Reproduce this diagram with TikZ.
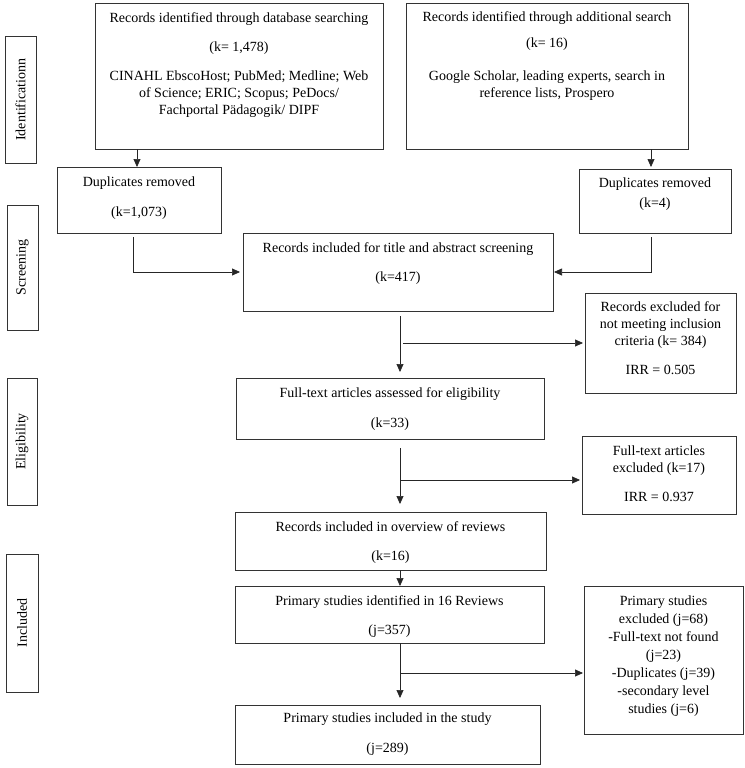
\documentclass[tikz,border=0pt]{standalone}
\usepackage{fontspec}
\setmainfont{Liberation Serif}
\usepackage{tikz}
\usetikzlibrary{arrows.meta,positioning}
\newcommand{\boxfont}{\fontsize{14}{17}\selectfont}

\begin{document}
\begin{tikzpicture}[
  x=1pt, y=-1pt,
  box/.style={rectangle, draw=black!80, line width=0.7pt, inner sep=0pt, outer sep=0pt, anchor=north west},
  txt/.style={font=\boxfont, align=center, inner sep=0pt, text=black},
  arr/.style={-{Triangle[length=8pt,width=7pt]}, line width=0.7pt, black!85}
]
\useasboundingbox (0,0) rectangle (744,768);

\node[box, minimum width=31pt, minimum height=127pt](idS) at (5,36) {};
\node[box, minimum width=31pt, minimum height=125pt](scS) at (7,205) {};
\node[box, minimum width=30pt, minimum height=127pt](elS) at (7,378) {};
\node[box, minimum width=32pt, minimum height=138pt](inS) at (6,554) {};
\node[txt, rotate=90](idT) at (idS.center) {Identificationn};
\node[txt, rotate=90](scT) at (scS.center) {Screening};
\node[txt, rotate=90](elT) at (elS.center) {Eligibility};
\node[txt, rotate=90](inT) at (inS.center) {Included};

\node[box, minimum width=288pt, minimum height=146pt](dbs) at (95,3) {};
\node[box, minimum width=282pt, minimum height=146pt](add) at (406,3) {};
\node[box, minimum width=164pt, minimum height=66pt](dupL) at (57,167) {};
\node[box, minimum width=152pt, minimum height=64pt](dupR) at (579,169) {};
\node[box, minimum width=310pt, minimum height=78pt](scr) at (243,233) {};
\node[box, minimum width=151pt, minimum height=100pt](exc1) at (585,293) {};
\node[box, minimum width=308pt, minimum height=61pt](ft) at (236,378) {};
\node[box, minimum width=154pt, minimum height=78pt](exc2) at (582,436) {};
\node[box, minimum width=311pt, minimum height=58pt](ovr) at (235,512) {};
\node[box, minimum width=309pt, minimum height=57pt](prim) at (235,586) {};
\node[box, minimum width=159pt, minimum height=148pt](exc3) at (584,586) {};
\node[box, minimum width=305pt, minimum height=59pt](fin) at (235,705) {};

\node[txt, below=7pt of dbs.north](dbsT){\strut Records identified through database searching\\[12pt]
  (k= 1,478)\\[12pt] CINAHL EbscoHost; PubMed; Medline; Web\\ of Science; ERIC; Scopus; PeDocs/\\ Fachportal Pädagogik/ DIPF};
\node[txt, below=6pt of add.north](addT){\strut Records identified through additional search\\[9pt]
  (k= 16)\\[16pt] Google Scholar, leading experts, search in\\ reference lists, Prospero};
\node[txt, below=7pt of dupL.north](dupLT){\strut Duplicates removed\\[13pt] (k=1,073)};
\node[txt, below=6pt of dupR.north](dupRT){\strut Duplicates removed\\[3pt] (k=4)};
\node[txt, below=7pt of scr.north](scrT){\strut Records included for title and abstract screening\\[12pt] (k=417)};
\node[txt, below=6pt of exc1.north](exc1T){\strut Records excluded for\\ not meeting inclusion\\ criteria (k= 384)\\[12pt] IRR = 0.505};
\node[txt, below=7pt of ft.north](ftT){\strut Full-text articles assessed for eligibility\\[13pt] (k=33)};
\node[txt, below=7pt of exc2.north](exc2T){\strut Full-text articles\\ excluded (k=17)\\[12pt] IRR = 0.937};
\node[txt, below=7pt of ovr.north](ovrT){\strut Records included in overview of reviews\\[12pt] (k=16)};
\node[txt, below=7pt of prim.north](primT){\strut Primary studies identified in 16 Reviews\\[12pt] (j=357)};
\node[txt, font=\fontsize{14}{18}\selectfont, below=7pt of exc3.north](exc3T){\strut Primary studies\\ excluded (j=68)\\
  -Full-text not found\\ (j=23)\\ -Duplicates (j=39)\\ -secondary level\\ studies (j=6)};
\node[txt, below=5pt of fin.north](finT){\strut Primary studies included in the study\\[13pt] (j=289)};

\coordinate (spine) at (400,0);

\draw[arr]([xshift=-2pt]dupL.north |- dbs.south)--([xshift=-2pt]dupL.north);
\draw[arr, shorten >=2pt]([xshift=-4pt]dupR.north |- add.south)--([xshift=-4pt]dupR.north);
\draw[arr, shorten <=4pt, shorten >=3pt]([xshift=-6pt]dupL.south)|-(scr.west);
\draw[arr, shorten <=4pt, shorten >=1pt]([xshift=-4pt]dupR.south)|-(scr.east);
\draw[arr, shorten <=5pt, shorten >=6pt](scr.south -| spine)--(ft.north -| spine);
\draw[arr, shorten <=3pt, shorten >=2pt](exc1.west -| spine)--(exc1.west);
\draw[arr, shorten <=9pt, shorten >=8pt](ft.south -| spine)--(ovr.north -| spine);
\draw[arr, shorten >=2pt]([yshift=-5pt]exc2.west -| spine)--([yshift=-5pt]exc2.west);
\draw[arr](ovr.south -| spine)--(prim.north -| spine);
\draw[arr, shorten >=7pt](prim.south -| spine)--(fin.north -| spine);
\draw[arr, shorten >=1pt]([yshift=-13pt]exc3.west -| spine)--([yshift=-13pt]exc3.west);
\end{tikzpicture}
\end{document}
